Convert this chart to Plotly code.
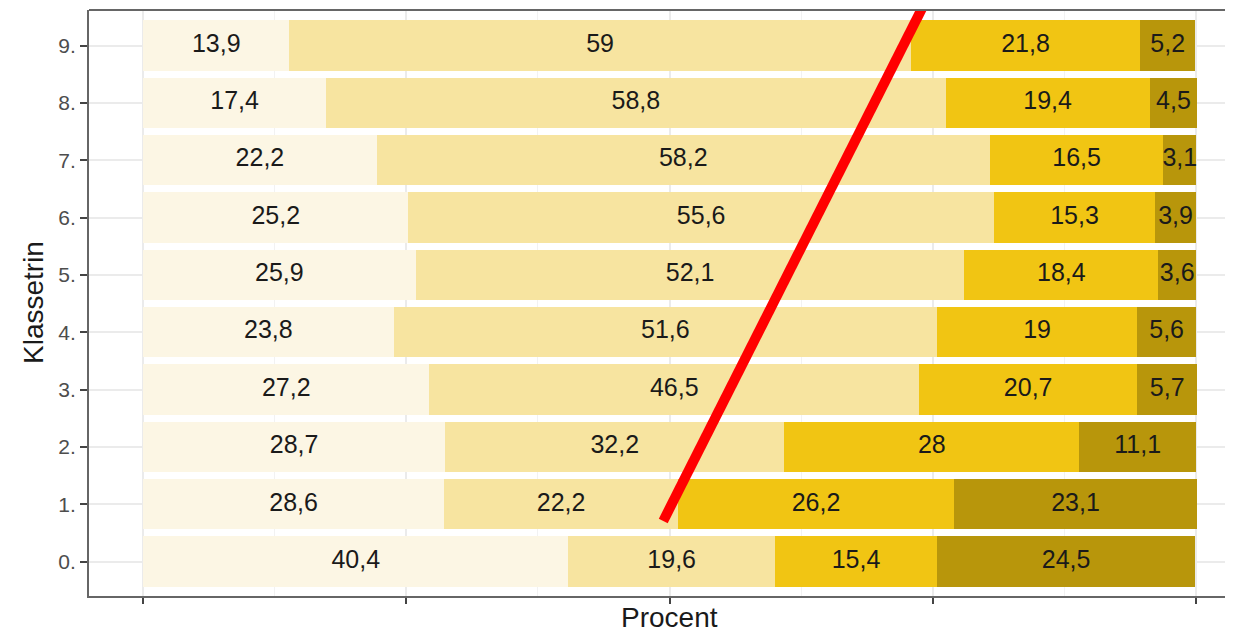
import plotly.graph_objects as go
import numpy as np

categories = ["0.", "1.", "2.", "3.", "4.", "5.", "6.", "7.", "8.", "9."]
seg1 = [40.4, 28.6, 28.7, 27.2, 23.8, 25.9, 25.2, 22.2, 17.4, 13.9]
seg2 = [19.6, 22.2, 32.2, 46.5, 51.6, 52.1, 55.6, 58.2, 58.8, 59.0]
seg3 = [15.4, 26.2, 28.0, 20.7, 19.0, 18.4, 15.3, 16.5, 19.4, 21.8]
seg4 = [24.5, 23.1, 11.1, 5.7, 5.6, 3.6, 3.9, 3.1, 4.5, 5.2]
seg_colors = ["#FCF6E4", "#F7E4A0", "#F1C513", "#B8960B"]

# red overlay line endpoints (x in percent, y in category position)
red_x = [49.4, 74.0]
red_y = [0.71, 9.66]

ypos = list(range(len(categories)))
segments = [seg1, seg2, seg3, seg4]

fig = go.Figure()
left = np.zeros(len(categories))
tx, ty, tt = [], [], []
for seg, col in zip(segments, seg_colors):
    fig.add_trace(go.Bar(
        y=ypos, x=seg, orientation="h", marker=dict(color=col, line=dict(width=0)),
        width=0.88, hoverinfo="skip", showlegend=False))
    for i, v in enumerate(seg):
        tx.append(left[i] + v / 2)
        ty.append(ypos[i])
        tt.append(f"{v:g}".replace(".", ","))
    left = left + np.array(seg)

fig.add_trace(go.Scatter(
    x=tx, y=ty, text=tt, mode="text",
    textfont=dict(family="Liberation Sans, Arial", size=25, color="#1A1A1A"),
    textposition="middle center", showlegend=False, hoverinfo="skip", cliponaxis=False))

fig.add_shape(type="line", xref="x", yref="y", x0=red_x[0], y0=red_y[0], x1=red_x[1], y1=red_y[1],
              line=dict(color="#FF0000", width=10), layer="above")

PW = 1233 - 89
PH = 596 - 10
fig.update_layout(
    width=1225, height=626,
    margin=dict(l=81, r=0, t=2, b=38),
    barmode="stack",
    plot_bgcolor="white", paper_bgcolor="white",
    font=dict(family="Liberation Sans, Arial", color="#1A1A1A"),
    xaxis=dict(
        range=[-5.13, 103.5], tickvals=[0, 25, 50, 75, 100], ticktext=["", "", "", "", ""],
        showgrid=True, gridcolor="#EBEBEB", gridwidth=1.5,
        minor=dict(tickvals=[12.5, 37.5, 62.5, 87.5], showgrid=True, gridcolor="#F2F2F2", gridwidth=1, ticks=""),
        ticks="outside", ticklen=6, tickcolor="#444444", tickwidth=2,
        showline=True, linecolor="#666666", linewidth=2, mirror=False,
        zeroline=False, automargin=False,
    ),
    yaxis=dict(
        range=[-0.6, 9.62], tickvals=ypos, ticktext=categories,
        tickfont=dict(size=21, color="#4D4D4D"),
        showgrid=True, gridcolor="#EBEBEB", gridwidth=1.5,
        ticks="outside", ticklen=7, tickcolor="#444444", tickwidth=2,
        showline=True, linecolor="#666666", linewidth=2,
        zeroline=False, automargin=False,
    ),
    annotations=[
        dict(text="Procent", xref="paper", yref="paper", x=(669 - 89) / PW, y=-(617 - 596) / PH,
             xanchor="center", yanchor="middle", showarrow=False,
             font=dict(size=28, color="#1A1A1A")),
        dict(text="Klassetrin", xref="paper", yref="paper", x=-(89 - 33) / PW, y=(596 - 303) / PH,
             xanchor="center", yanchor="middle", showarrow=False, textangle=-90,
             font=dict(size=28, color="#1A1A1A")),
    ],
)
# top panel border
fig.add_shape(type="line", xref="paper", yref="paper", x0=0, x1=1, y0=1, y1=1,
              line=dict(color="#666666", width=2))

fig.write_html("out.html")
